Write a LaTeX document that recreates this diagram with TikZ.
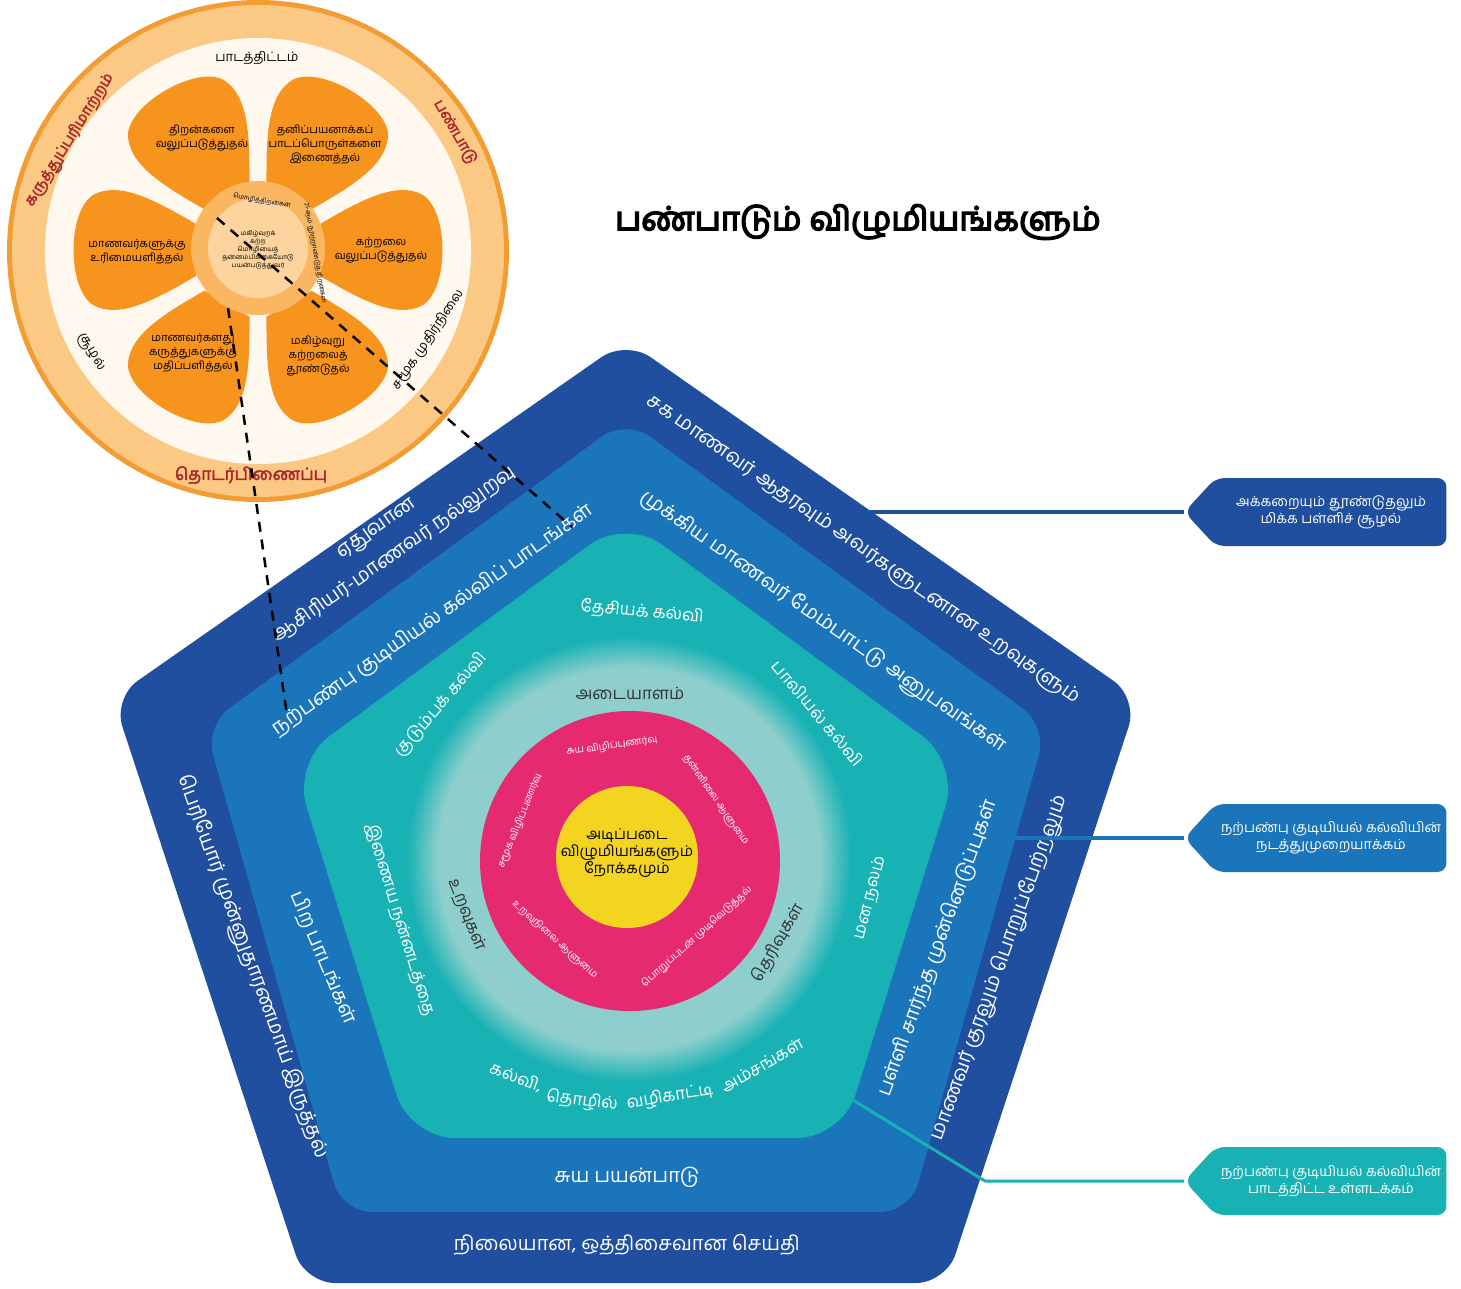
\documentclass[tikz,border=0pt]{standalone}
\usepackage{fontspec}
\newfontfamily\tamil[Script=Tamil]{Hind Madurai}
\newfontfamily\tamilbf[Script=Tamil,FakeBold=2.5]{Hind Madurai}
\newfontfamily\tamilhv[Script=Tamil,FakeBold=4.5]{Hind Madurai}
\usetikzlibrary{shapes.symbols,positioning}

\definecolor{darkband}{HTML}{1F4F9E}
\definecolor{midband}{HTML}{1B75BB}
\definecolor{tealband}{HTML}{19B2B4}
\definecolor{lightteal}{HTML}{8ECFCD}
\definecolor{pinkring}{HTML}{E52A6F}
\definecolor{yellowcore}{HTML}{F3D521}
\definecolor{petal}{HTML}{F7941E}
\definecolor{ringband}{HTML}{FCC985}
\definecolor{ringline}{HTML}{F39C33}
\definecolor{cream}{HTML}{FEF8EE}
\definecolor{redtxt}{HTML}{A8282B}
\definecolor{hubring}{HTML}{FBB661}
\definecolor{hubcore}{HTML}{FDD49D}
\definecolor{greytxt}{HTML}{333333}

\pgfdeclareradialshading{tealglow}{\pgfpoint{0bp}{0bp}}{color(0bp)=(lightteal); color(21.5bp)=(lightteal); color(25bp)=(tealband); color(50bp)=(tealband)}

\tikzset{
  bandtxt/.style={text=white, font=\tamil\fontsize{20}{24}\selectfont, inner sep=0pt},
  tealtxt/.style={text=white, font=\tamil\fontsize{17}{21}\selectfont, inner sep=0pt},
  ringtxt/.style={text=greytxt, font=\tamil\fontsize{17}{20}\selectfont, inner sep=0pt},
  pinktxt/.style={text=white, font=\tamil\fontsize{10}{12}\selectfont, inner sep=0pt},
  coretxt/.style={text=black, font=\tamil\fontsize{15}{17}\selectfont, align=center, inner sep=0pt},
  petaltxt/.style={text=black, font=\tamil\fontsize{11}{14}\selectfont, align=center, inner sep=0pt},
  flowertxt/.style={text=#1, font=\tamilbf\fontsize{15}{17}\selectfont, inner sep=0pt},
  hubtxt/.style={text=black, font=\tamil\fontsize{6.5}{8}\selectfont, align=center, inner sep=0pt},
  callout/.style={signal, signal to=west, signal pointer angle=95, fill=#1, text=white,
    font=\tamil\fontsize{14}{17}\selectfont, align=center, minimum height=68pt,
    minimum width=262pt, rounded corners=9pt, inner sep=2pt},
  link/.style={line width=4pt},
  zoomline/.style={dash pattern=on 10pt off 8pt, line width=2.5pt},
  petalshape/.pic={\fill[petal] (62,-26) .. controls (100,-48) and (138,-70) .. (165,-55)
    .. controls (191,-38) and (191,38) .. (165,55) .. controls (138,70) and (100,48) .. (62,26) -- cycle;}
}

\begin{document}
\begin{tikzpicture}[x=1pt,y=-1pt]
  \useasboundingbox (0,0) rectangle (1461,1288);

  \fill[darkband, rounded corners=30pt] (626,340) -- (1138,698) -- (946,1283) -- (305,1283) -- (113,698) -- cycle;
  \fill[midband, rounded corners=30pt] (626,419) -- (1047,726) -- (910,1212) -- (342,1212) -- (205,726) -- cycle;
  \fill[tealband, rounded corners=45pt] (626,518) -- (959,763) -- (842,1138) -- (410,1138) -- (293,763) -- cycle;
  \shade[shading=tealglow] (629,859) circle[radius=222pt];
  \fill[pinkring] (630,861) circle[radius=150pt];
  \fill[yellowcore] (627,857) circle[radius=71pt];

  \node[coretxt] (core) at (627,853) {அடிப்படை\\விழுமியங்களும்\\நோக்கமும்};

  \node[pinktxt, rotate=8] (p1) at (612,746) {சுய விழிப்புணர்வு};
  \node[pinktxt, rotate=-55] (p2) at (716,800) {தன்னிலை ஆளுமை};
  \node[pinktxt, rotate=42] (p3) at (697,937) {பொறுப்புடன் முடிவெடுத்தல்};
  \node[pinktxt, rotate=-42] (p4) at (555,940) {உறவுநிலை ஆளுமை};
  \node[pinktxt, rotate=68] (p5) at (520,821) {சமூக விழிப்புணர்வு};

  \node[ringtxt] (r1) at (630,693) {அடையாளம்};
  \node[ringtxt, rotate=-68] (r2) at (467,915) {உறவுகள்};
  \node[ringtxt, rotate=60] (r3) at (778,943) {தெரிவுகள்};

  \node[tealtxt, rotate=-5] (t1) at (642,612) {தேசியக் கல்வி};
  \node[tealtxt, rotate=49] (t2) at (441,705) {குடும்பக் கல்வி};
  \node[tealtxt, rotate=-50] (t3) at (818,713) {பாலியல் கல்வி};
  \node[tealtxt, rotate=-73] (t4) at (400,920) {இணைய நன்னடத்தை};
  \node[tealtxt, rotate=75] (t5) at (870,898) {மன நலம்};
  \node[tealtxt, rotate=-20] (t6a) at (516,1077) {கல்வி,};
  \node[tealtxt, rotate=-7] (t6b) at (582,1101) {தொழில்};
  \node[tealtxt, rotate=9] (t6c) at (670,1097) {வழிகாட்டி};
  \node[tealtxt, rotate=30] (t6d) at (762,1065) {அம்சங்கள்};

  \node[bandtxt, rotate=35] (m1) at (433,620) {நற்பண்பு குடியியல் கல்விப் பாடங்கள்};
  \node[bandtxt, rotate=-35] (m2) at (823,622) {முக்கிய மாணவர் மேம்பாட்டு அனுபவங்கள்};
  \node[bandtxt, rotate=70] (m3) at (938,948) {பள்ளி சார்ந்த முன்னெடுப்புகள்};
  \node[bandtxt, rotate=-67] (m4) at (323,958) {பிற பாடங்கள்};
  \node[bandtxt] (m5) at (627,1177) {சுய பயன்பாடு};

  \node[bandtxt, rotate=35] (d1a) at (378,530) {ஏதுவான};
  \node[bandtxt, rotate=35] (d1b) at (395,555) {ஆசிரியர்-மாணவர் நல்லுறவு};
  \node[bandtxt, rotate=-35] (d2) at (863,550) {சக மாணவர் ஆதரவும் அவர்களுடனான உறவுகளும்};
  \node[bandtxt, rotate=70] (d3) at (1000,968) {மாணவர் குரலும் பொறுப்பேற்றலும்};
  \node[bandtxt, rotate=-70] (d4) at (252,967) {பெரியோர் முன்னுதாரணமாய் இருத்தல்};
  \node[bandtxt] (d5) at (627,1245) {நிலையான, ஒத்திசைவான செய்தி};

  \node[font=\tamilhv\fontsize{33}{38}\selectfont] (title) at (858,222) {பண்பாடும் விழுமியங்களும்};

  \node[callout=darkband] (cb1) at (1331,512) {அக்கறையும் தூண்டுதலும்\\மிக்க பள்ளிச் சூழல்};
  \node[callout=midband] (cb2) at (1331,838) {நற்பண்பு குடியியல் கல்வியின்\\நடத்துமுறையாக்கம்};
  \node[callout=tealband] (cb3) at (1331,1181) {நற்பண்பு குடியியல் கல்வியின்\\பாடத்திட்ட உள்ளடக்கம்};

  \coordinate (l1) at (870,512);
  \coordinate (l2) at (1012,838);
  \coordinate (l3) at (848,1097);
  \coordinate (l3b) at (985,1181);
  \draw[link, darkband] (l1) -- (cb1.west);
  \draw[link, midband] (l2) -- (cb2.west);
  \draw[link, tealband, line width=3pt] (l3) -- (l3b) -- (cb3.west);

  \fill[ringline] (258,251) circle[radius=251pt];
  \fill[ringband] (258,251) circle[radius=246pt];
  \fill[cream] (258,251) circle[radius=213pt];
  \foreach \a in {0,60,...,300}
    \pic[rotate=\a] at (258,250) {petalshape};
  \fill[hubring] (258,248) circle[radius=67pt];
  \fill[hubcore] (258,248) circle[radius=50pt];

  \node[petaltxt] (f1) at (202,138) {திறன்களை\\வலுப்படுத்துதல்};
  \node[petaltxt] (f2) at (325,144) {தனிப்பயனாக்கப்\\பாடப்பொருள்களை\\இணைத்தல்};
  \node[petaltxt] (f3) at (381,250) {கற்றலை\\வலுப்படுத்துதல்};
  \node[petaltxt] (f4) at (318,356) {மகிழ்வுறு\\கற்றலைத்\\தூண்டுதல்};
  \node[petaltxt] (f5) at (193,353) {மாணவர்களது\\கருத்துகளுக்கு\\மதிப்பளித்தல்};
  \node[petaltxt] (f6) at (137,252) {மாணவர்களுக்கு\\உரிமையளித்தல்};

  \node[hubtxt] (hub) at (258,250) {மகிழ்வுறக்\\கற்ற\\மொழியைத்\\தன்னம்பிக்கையோடு\\பயன்படுத்துவர்};
  \node[hubtxt, rotate=-10] (h1) at (262,201) {மொழித்திறன்கள்};
  \node[hubtxt, rotate=-80] (h2) at (315,253) {21-ஆம் நூற்றாண்டுத் திறன்கள்};

  \node[flowertxt=black, font=\tamil\fontsize{13}{15}\selectfont] (c1) at (257,58) {பாடத்திட்டம்};
  \node[flowertxt=redtxt, rotate=58] (c2) at (70,140) {கருத்துப்பரிமாற்றம்};
  \node[flowertxt=redtxt, rotate=-60] (c3) at (455,132) {பண்பாடு};
  \node[flowertxt=redtxt, font=\tamilbf\fontsize{17}{19}\selectfont] (c4) at (251,475) {தொடர்பிணைப்பு};
  \node[flowertxt=black, font=\tamil\fontsize{13}{15}\selectfont, rotate=-60] (c5) at (91,352) {சூழல்};
  \node[flowertxt=black, font=\tamil\fontsize{13}{15}\selectfont, rotate=56] (c6) at (428,340) {சமூக முதிர்நிலை};

  \coordinate (z1) at (217,218);
  \coordinate (z2) at (228,308);
  \coordinate (z1e) at (572,527);
  \coordinate (z2e) at (287,715);
  \draw[zoomline] (z1) -- (z1e);
  \draw[zoomline] (z2) -- (z2e);
\end{tikzpicture}
\end{document}
